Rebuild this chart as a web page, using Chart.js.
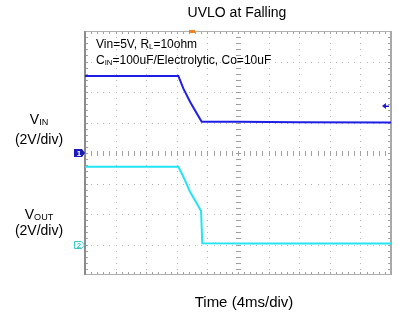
<!DOCTYPE html>
<html>
<head>
<meta charset="utf-8">
<script src="https://cdn.jsdelivr.net/npm/chart.js@4.4.1/dist/chart.umd.min.js"></script>
<style>
  body { margin: 0; background: #fff; }
  #wrap { position: relative; width: 398px; height: 313px; font-family: "Liberation Sans", Arial, sans-serif; color: #000; }
  canvas { position: absolute; left: 0; top: 0; }
  .lbl { position: absolute; white-space: nowrap; line-height: 1; }
  .lbl sub { font-size: 65%; vertical-align: -0.15em; }
  .c { transform: translateX(-50%); text-align: center; }
</style>
</head>
<body>
<div id="wrap">
  <canvas id="scope" width="398" height="313"></canvas>
  <div class="lbl c" style="left:237px; top:5px; font-size:14px;">UVLO at Falling</div>
  <div class="lbl" style="left:96px; top:38px; font-size:12px;">Vin=5V, R<sub>L</sub>=10ohm</div>
  <div class="lbl" style="left:96px; top:54px; font-size:12px;">C<sub>IN</sub>=100uF/Electrolytic, Co=10uF</div>
  <div class="lbl c" style="left:39px; top:112px; font-size:14px;">V<sub>IN</sub></div>
  <div class="lbl c" style="left:39px; top:132px; font-size:14px;">(2V/div)</div>
  <div class="lbl c" style="left:39px; top:207px; font-size:14px;">V<sub>OUT</sub></div>
  <div class="lbl c" style="left:39px; top:223px; font-size:14px;">(2V/div)</div>
  <div class="lbl c" style="left:244px; top:294px; font-size:15px;">Time (4ms/div)</div>
</div>
<script>
// Time in ms (4 ms/div, 10 div), voltages in V (2 V/div)
const vinTime = [0, 12.2, 12.85, 13.73, 14.6, 15.25, 20, 28, 40];
const vinVolts = [5.05, 5.05, 4.24, 3.36, 2.6, 2.05, 2.05, 2.02, 2.0];

const voutTime = [0, 12.2, 12.85, 13.73, 14.6, 15.17, 15.33, 22, 40];
const voutVolts = [5.1, 5.1, 4.45, 3.46, 2.7, 2.2, 0.08, 0.06, 0.06];

const trigLevel = 3.08;   // V on channel 1
const trigTime = 14.0;    // ms

const toPoints = (t, v) => t.map((x, i) => ({ x: x, y: v[i] }));

// oscilloscope graticule: dotted grid, ticked centre lines, ticked frame
const graticule = {
    id: 'graticule',
    beforeDatasetsDraw(chart) {
        const ctx = chart.ctx;
        const a = chart.chartArea;
        const w = a.right - a.left, h = a.bottom - a.top;
        const dx = w / 10, dy = h / 8;
        ctx.save();
        ctx.fillStyle = '#b4b4b4';
        for (let i = 1; i < 10; i++) {
            const x = a.left + i * dx;
            for (let j = 1; j < 40; j++) ctx.fillRect(Math.round(x), Math.round(a.top + j * dy / 5), 1, 1);
        }
        for (let k = 1; k < 8; k++) {
            const y = a.top + k * dy;
            for (let j = 1; j < 50; j++) ctx.fillRect(Math.round(a.left + j * dx / 5), Math.round(y), 1, 1);
        }
        // centre cross ticks
        ctx.fillStyle = '#a0a0a0';
        const cx = Math.round(a.left + 5 * dx), cy = Math.round(a.top + 4 * dy);
        for (let j = 1; j < 50; j++) ctx.fillRect(Math.round(a.left + j * dx / 5), cy - 2, 1, 5);
        for (let j = 1; j < 40; j++) ctx.fillRect(cx - 2, Math.round(a.top + j * dy / 5), 5, 1);
        // frame ticks
        for (let j = 1; j < 50; j++) {
            const x = Math.round(a.left + j * dx / 5);
            ctx.fillRect(x, a.top, 1, 3);
            ctx.fillRect(x, a.bottom - 3, 1, 3);
        }
        for (let j = 1; j < 40; j++) {
            const y = Math.round(a.top + j * dy / 5);
            ctx.fillRect(a.left, y, 3, 1);
            ctx.fillRect(a.right - 3, y, 3, 1);
        }
        // frame
        ctx.strokeStyle = '#b0b0b0';
        ctx.lineWidth = 1;
        ctx.strokeRect(a.left + 0.5, a.top + 0.5, w - 1, h - 1);
        ctx.fillStyle = '#8c8c8c';
        ctx.fillRect(a.left - 1, a.top, 2, h);
        ctx.fillStyle = '#a8a8a8';
        ctx.fillRect(a.right - 1, a.top, 2, h);
        ctx.restore();
    },
    afterDatasetsDraw(chart) {
        const ctx = chart.ctx;
        const a = chart.chartArea;
        const y1 = chart.scales.y1, y2 = chart.scales.y2, xs = chart.scales.x;
        ctx.save();
        // channel 1 ground marker
        let gy = Math.round(y1.getPixelForValue(0));
        ctx.fillStyle = '#1a1ab8';
        ctx.beginPath();
        ctx.moveTo(a.left - 11, gy - 4);
        ctx.lineTo(a.left - 3, gy - 4);
        ctx.lineTo(a.left, gy);
        ctx.lineTo(a.left - 3, gy + 4);
        ctx.lineTo(a.left - 11, gy + 4);
        ctx.closePath();
        ctx.fill();
        ctx.fillStyle = '#fff';
        ctx.font = 'bold 8px "Liberation Sans", Arial';
        ctx.textAlign = 'center';
        ctx.textBaseline = 'middle';
        ctx.fillText('1', a.left - 6, gy + 0.5);
        // channel 2 ground marker
        gy = Math.round(y2.getPixelForValue(0));
        ctx.strokeStyle = '#3cc8d2';
        ctx.lineWidth = 1;
        ctx.beginPath();
        ctx.moveTo(a.left - 10.5, gy - 3.5);
        ctx.lineTo(a.left - 3.5, gy - 3.5);
        ctx.lineTo(a.left - 0.5, gy);
        ctx.lineTo(a.left - 3.5, gy + 3.5);
        ctx.lineTo(a.left - 10.5, gy + 3.5);
        ctx.closePath();
        ctx.stroke();
        ctx.fillStyle = '#3cc8d2';
        ctx.fillText('2', a.left - 6, gy + 0.5);
        // trigger level arrow (right edge)
        const ty = Math.round(y1.getPixelForValue(trigLevel));
        ctx.fillStyle = '#1a1ad0';
        ctx.beginPath();
        ctx.moveTo(a.right - 9, ty);
        ctx.lineTo(a.right - 5, ty - 3);
        ctx.lineTo(a.right - 5, ty + 3);
        ctx.closePath();
        ctx.fill();
        ctx.fillRect(a.right - 6, ty - 0.5, 4, 1.5);
        // trigger position (top edge)
        const tx = Math.round(xs.getPixelForValue(trigTime));
        ctx.fillStyle = '#f08020';
        ctx.fillRect(tx - 3, a.top - 1, 6, 3);
        ctx.restore();
    }
};

const ctx = document.getElementById('scope').getContext('2d');
new Chart(ctx, {
    type: 'scatter',
    data: {
        datasets: [{
            label: 'VIN',
            data: toPoints(vinTime, vinVolts),
            yAxisID: 'y1',
            showLine: true,
            borderColor: '#1e1ee6',
            borderWidth: 2,
            pointRadius: 0,
            tension: 0
        }, {
            label: 'VOUT',
            data: toPoints(voutTime, voutVolts),
            yAxisID: 'y2',
            showLine: true,
            borderColor: '#22e4f4',
            borderWidth: 2,
            pointRadius: 0,
            tension: 0
        }]
    },
    options: {
        responsive: false,
        animation: false,
        layout: { padding: { left: 85, right: 7, top: 31, bottom: 38 } },
        plugins: { legend: { display: false }, tooltip: { enabled: false } },
        scales: {
            x: { type: 'linear', min: 0, max: 40, display: false },
            y1: { type: 'linear', min: -8, max: 8, display: false },
            y2: { type: 'linear', min: -2, max: 14, display: false }
        }
    },
    plugins: [graticule]
});
</script>
</body>
</html>
